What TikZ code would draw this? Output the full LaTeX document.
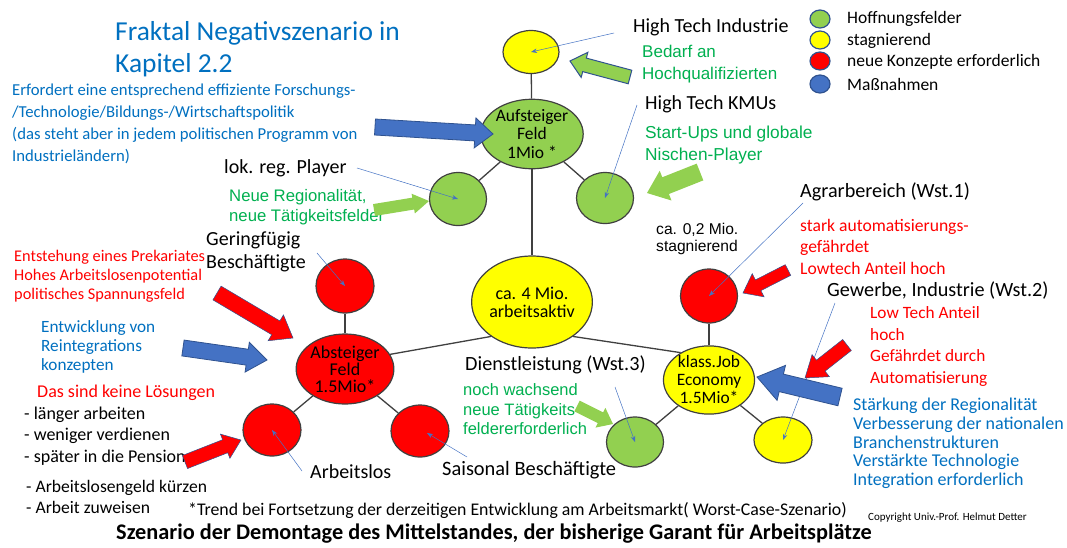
\documentclass[tikz,border=0pt]{standalone}
\usepackage{fontspec}
\setmainfont{Carlito}
\newfontfamily\arialf{Liberation Sans}
\usetikzlibrary{shapes.geometric,calc,arrows.meta}
\definecolor{gfill}{RGB}{146,208,80}
\definecolor{yfill}{RGB}{255,255,0}
\definecolor{rfill}{RGB}{255,0,0}
\definecolor{bfill}{RGB}{68,114,196}
\definecolor{bline}{RGB}{47,82,143}
\definecolor{cline}{RGB}{64,64,64}
\definecolor{tblue}{RGB}{0,112,192}
\definecolor{tgreen}{RGB}{0,176,80}
\definecolor{tred}{RGB}{255,0,0}
\newcommand\fs[2]{\fontsize{#1}{#2}\selectfont}
% style, tail, tip, shaft half width, head half width, head length
\newcommand\blockarr[6]{%
  \coordinate (bA) at ($(#3)!#6!(#2)$);
  \draw[#1] ($(#2)!#4!90:(#3)$) -- ($(bA)!#4!-90:(#2)$) -- ($(bA)!#5!-90:(#2)$) -- (#3)
    -- ($(bA)!#5!90:(#2)$) -- ($(bA)!#4!90:(#2)$) -- ($(#2)!#4!-90:(#3)$) -- cycle;}
\tikzset{
  circ/.style={ellipse, draw=cline, line width=1.2pt, inner sep=0pt, align=center, text=black},
  leg/.style={ellipse, draw=bline, line width=1.2pt, inner sep=0pt, minimum width=20, minimum height=18},
  conn/.style={draw=cline, line width=1.3pt},
  ptr/.style={draw=bfill, line width=0.5pt, -{Stealth[length=6pt,width=4.5pt]}},
  lbl/.style={anchor=west, inner sep=0pt, align=left, font=\fs{20}{23}},
  gtxt/.style={anchor=west, inner sep=0pt, align=left, text=tgreen, font=\arialf\fs{16.5}{21}},
  rtxt/.style={anchor=west, inner sep=0pt, align=left, text=tred, font=\fs{17}{19.5}},
  btxt/.style={anchor=west, inner sep=0pt, align=left, text=tblue, font=\fs{16}{19}},
  ktxt/.style={anchor=west, inner sep=0pt, align=left, font=\fs{18}{21.5}},
  arrG/.style={fill=gfill, draw=none},
  arrGB/.style={fill=gfill, draw=bline, line width=1pt},
  arrB/.style={fill=bfill, draw=bline, line width=0.8pt},
  arrR/.style={fill=rfill, draw=bline, line width=0.5pt},
}
\begin{document}
\begin{tikzpicture}[x=1pt,y=-1pt]
\fill[white] (0,0) rectangle (1067,547);
\useasboundingbox (0,0) rectangle (1067,547);

% ---- circles ----
\node[circ,fill=yfill,minimum width=56,minimum height=43] (topY) at (531,52) {};
\node[circ,fill=gfill,minimum width=76,minimum height=62,font=\fs{17.5}{18.5}] (aufst) at (532,134) {Aufsteiger\\Feld\\1Mio *};
\node[circ,fill=gfill,minimum width=57,minimum height=53] (lg) at (458,199) {};
\node[circ,fill=gfill,minimum width=57,minimum height=51] (rg) at (605,198) {};
\node[circ,fill=yfill,minimum width=102,minimum height=92,font=\fs{18}{18}] (ctr) at (532,302) {ca. 4 Mio.\\arbeitsaktiv};
\node[circ,fill=rfill,minimum width=57,minimum height=54] (agr) at (709,296) {};
\node[circ,fill=yfill,minimum width=76,minimum height=68,font=\fs{17.4}{18}] (kj) at (709,380) {klass.Job\\Economy\\1.5Mio*};
\node[circ,fill=gfill,minimum width=57,minimum height=50] (dg) at (635,442) {};
\node[circ,fill=yfill,minimum width=58,minimum height=46] (gy) at (783,440) {};
\node[circ,fill=rfill,minimum width=58,minimum height=54] (ger) at (345,286) {};
\node[circ,fill=rfill,minimum width=77,minimum height=70,font=\fs{18}{17}] (abst) at (345,369) {Absteiger\\Feld\\1.5Mio*};
\node[circ,fill=rfill,minimum width=58,minimum height=52] (arb) at (272,430) {};
\node[circ,fill=rfill,minimum width=58,minimum height=52] (sais) at (420,431) {};

% ---- connectors ----
\draw[conn] (topY) -- (aufst);
\draw[conn] (aufst) -- (lg);
\draw[conn] (aufst) -- (rg);
\draw[conn] (aufst) -- (ctr);
\draw[conn] (ctr.220) -- (abst.18);
\draw[conn] (ctr.320) -- (kj.136);
\draw[conn] (ger) -- (abst);
\draw[conn] (abst) -- (arb);
\draw[conn] (abst) -- (sais);
\draw[conn] (agr) -- (kj);
\draw[conn] (kj) -- (dg);
\draw[conn] (kj) -- (gy);

% ---- legend ----
\node[leg,fill=gfill] (l1) at (820,19) {};
\node[leg,fill=yfill] (l2) at (820,40) {};
\node[leg,fill=rfill] (l3) at (820,61) {};
\node[leg,fill=bfill] (l4) at (820,84) {};
\node[lbl,font=\fs{17.5}{19}] (lt1) at (847,19) {Hoffnungsfelder};
\node[lbl,font=\fs{17.5}{19}] (lt2) at (847,41) {stagnierend};
\node[lbl,font=\fs{17.5}{19}] (lt3) at (847,62) {neue Konzepte erforderlich};
\node[lbl,font=\fs{17.5}{19}] (lt4) at (847,84) {Maßnahmen};

% ---- texts ----
\node[anchor=west,inner sep=0pt,align=left,text=tblue,font=\fs{27.4}{32}] (title) at (115,49) {Fraktal Negativszenario in\\Kapitel 2.2};
\node[btxt,font=\fs{16.7}{22}] (para) at (12,124) {Erfordert eine entsprechend effiziente Forschungs-\\/Technologie/Bildungs-/Wirtschaftspolitik\\(das steht aber in jedem politischen Programm von\\Industrieländern)};
\node[lbl] (tlok) at (224,168) {lok. reg. Player};
\node[lbl] (tht) at (633,27) {High Tech Industrie};
\node[gtxt,font=\arialf\fs{17}{22}] (tbed) at (642,64) {Bedarf an\\Hochqualifizierten};
\node[lbl] (tkmu) at (645,104) {High Tech KMUs};
\node[gtxt,font=\arialf\fs{17.3}{22}] (tsu) at (645,145) {Start-Ups und globale\\Nischen-Player};
\node[gtxt,font=\arialf\fs{16.7}{20}] (treg) at (229,207) {Neue Regionalität,\\neue Tätigkeitsfelder};
\node[lbl] (tger) at (206,251.5) {Geringfügig\\Beschäftigte};
\node[rtxt,font=\fs{16.3}{19}] (tprek) at (14,276) {Entstehung eines Prekariates\\Hohes Arbeitslosenpotential\\politisches Spannungsfeld};
\node[btxt,font=\fs{17.2}{19}] (treint) at (41,347) {Entwicklung von\\Reintegrations\\konzepten};
\node[rtxt,font=\fs{18}{20}] (tkeine) at (37,393) {Das sind keine Lösungen};
\node[ktxt] (tlist) at (24,436) {- länger arbeiten\\- weniger verdienen\\- später in die Pension};
\node[ktxt,font=\fs{17.6}{21}] (tlist2) at (26,496.5) {- Arbeitslosengeld kürzen\\- Arbeit zuweisen};
\node[lbl] (tarb) at (310,472) {Arbeitslos};
\node[lbl,font=\fs{20.4}{23}] (tsais) at (442,470) {Saisonal Beschäftigte};
\node[lbl,font=\fs{17.8}{20}] (ttrend) at (188,511) {*Trend bei Fortsetzung der derzeitigen Entwicklung am Arbeitsmarkt( Worst-Case-Szenario)};
\node[inner sep=0pt,font=\bfseries\fs{22.3}{24}] (tbottom) at (494,534) {Szenario der Demontage des Mittelstandes, der bisherige Garant für Arbeitsplätze};
\node[lbl,font=\fs{11}{12}] (tcopy) at (868,518) {Copyright Univ.-Prof. Helmut Detter};
\node[lbl,font=\fs{20.2}{23}] (tdienst) at (465,365) {Dienstleistung (Wst.3)};
\node[gtxt,font=\arialf\fs{16.5}{19.5}] (tnoch) at (463,409.5) {noch wachsend\\neue Tätigkeits\\feldererforderlich};
\node[anchor=west,inner sep=0pt,align=left,font=\arialf\fs{15.6}{17}] (tca) at (656,238.5) {ca. 0,2 Mio.\\stagnierend};
\node[lbl,font=\fs{20.2}{23}] (tagr) at (800,192) {Agrarbereich (Wst.1)};
\node[rtxt,font=\fs{17.6}{21.5}] (tstark) at (800,246.5) {stark automatisierungs-\\gefährdet\\Lowtech Anteil hoch};
\node[lbl,font=\fs{20.2}{23}] (tgew) at (827,291) {Gewerbe, Industrie (Wst.2)};
\node[rtxt,font=\fs{17.3}{21.5}] (tlow) at (870,346.5) {Low Tech Anteil\\hoch\\Gefährdet durch\\Automatisierung};
\node[btxt,font=\fs{18}{18.75}] (tstaerk) at (853,443.5) {Stärkung der Regionalität\\Verbesserung der nationalen\\Branchenstrukturen\\Verstärkte Technologie\\Integration erforderlich};

% ---- pointer arrows ----
\coordinate (pHT) at (614,33);
\coordinate (pKMU) at (637,105);
\coordinate (pLok) at (357,168);
\coordinate (pGer) at (317,253);
\coordinate (pArb) at (302,471);
\coordinate (pSais) at (467,457);
\coordinate (pSaisE) at (427,433);
\coordinate (pDien) at (615,387);
\coordinate (pAgr) at (803,203);
\coordinate (pGew) at (835,303);
\draw[ptr] (pHT) -- (topY.center);
\draw[ptr] (pKMU) -- (rg.center);
\draw[ptr] (pLok) -- (lg.center);
\draw[ptr] (pGer) -- (ger.center);
\draw[ptr] (pArb) -- (arb.center);
\draw[ptr] (pSais) -- (pSaisE);
\draw[ptr] (pDien) -- (dg.center);
\draw[ptr] (pAgr) -- (agr.center);
\draw[ptr] (pGew) -- (gy.center);

% ---- block arrows ----
\coordinate (t1) at (630,77);  \coordinate (h1) at (570,61);
\coordinate (t2) at (375,127); \coordinate (h2) at (493,134);
\coordinate (t3) at (700,172); \coordinate (h3) at (647,193);
\coordinate (t4) at (374,210); \coordinate (h4) at (429,201);
\coordinate (t5) at (217,293); \coordinate (h5) at (293,338);
\coordinate (t6) at (183,348); \coordinate (h6) at (267,360);
\coordinate (t7) at (185,462); \coordinate (h7) at (241,440);
\coordinate (t8) at (577,406); \coordinate (h8) at (613,424);
\coordinate (t9) at (788,270); \coordinate (h9) at (743,293);
\coordinate (t10) at (847,345); \coordinate (h10) at (805,378);
\coordinate (t11) at (840,397); \coordinate (h11) at (757,377);
\blockarr{arrGB}{t1}{h1}{7pt}{13pt}{15pt}
\blockarr{arrB}{t2}{h2}{8pt}{15pt}{18pt}
\blockarr{arrG}{t3}{h3}{9pt}{16pt}{20pt}
\blockarr{arrG}{t4}{h4}{6pt}{10pt}{16pt}
\blockarr{arrR}{t5}{h5}{8pt}{15pt}{20pt}
\blockarr{arrB}{t6}{h6}{8pt}{15pt}{20pt}
\blockarr{arrR}{t7}{h7}{7pt}{13pt}{17pt}
\blockarr{arrG}{t8}{h8}{6pt}{11pt}{14pt}
\blockarr{arrR}{t9}{h9}{6pt}{13pt}{17pt}
\blockarr{arrR}{t10}{h10}{7pt}{14pt}{20pt}
\blockarr{arrB}{t11}{h11}{9pt}{18pt}{25pt}
\end{tikzpicture}
\end{document}
